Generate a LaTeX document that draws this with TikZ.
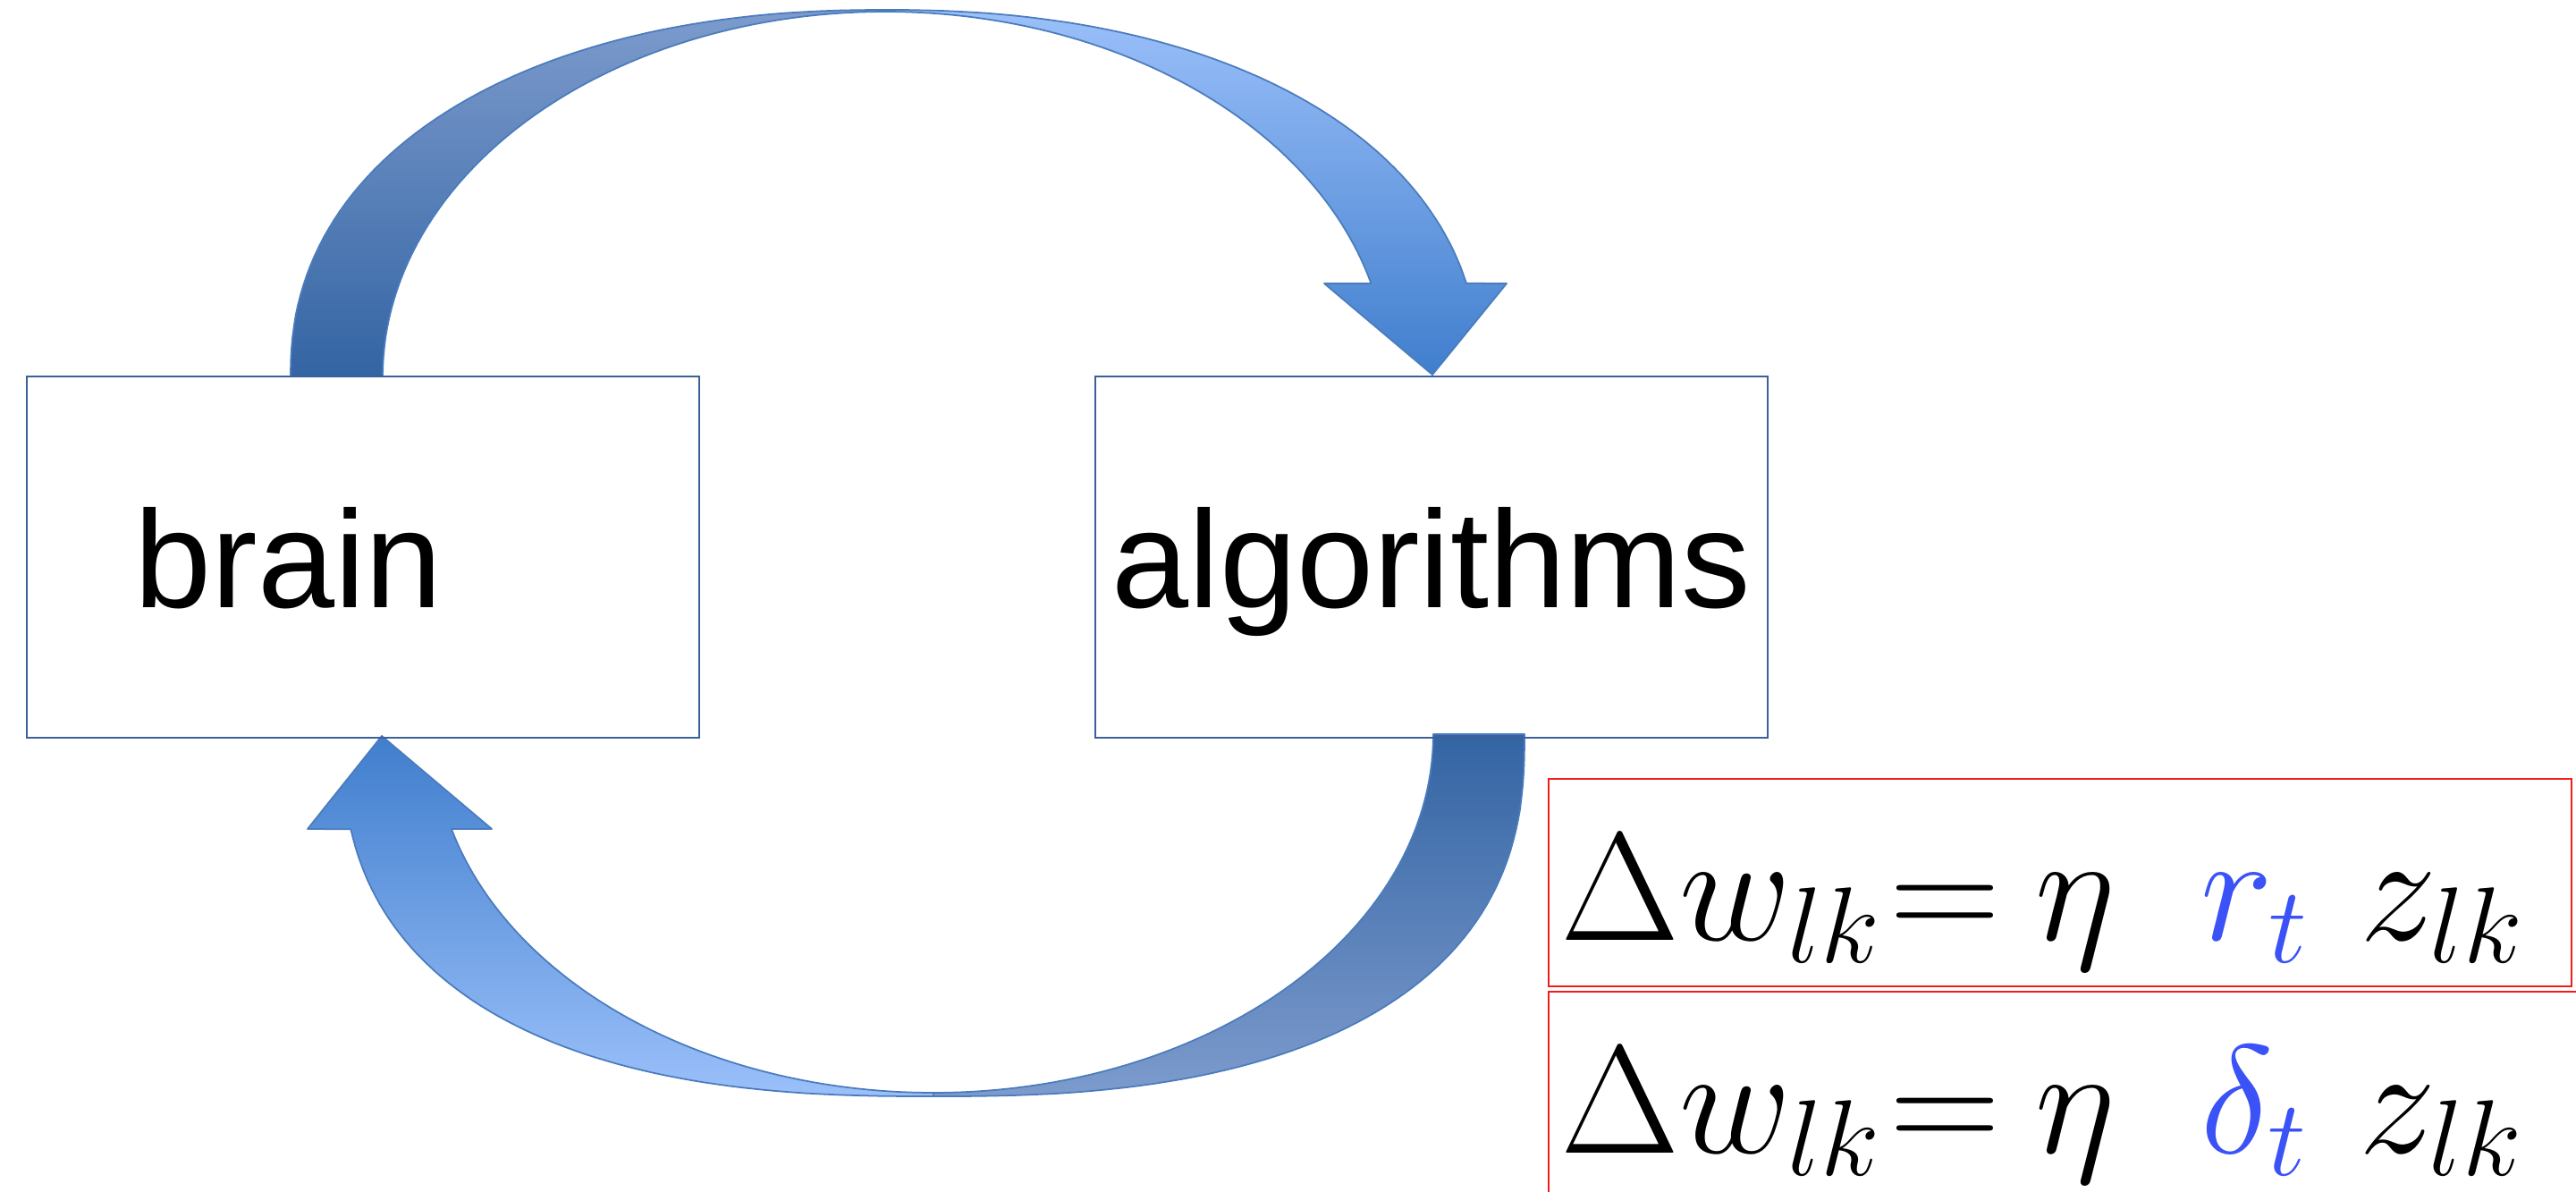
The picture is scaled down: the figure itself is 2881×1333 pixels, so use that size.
\documentclass[tikz,border=0pt]{standalone}
\usepackage{fix-cm}
\usepackage{fontspec}
\usepackage{xcolor}
\usetikzlibrary{positioning}
\newfontfamily\labelfont{Liberation Sans}
\definecolor{BoxBlue}{HTML}{3C6098}
\definecolor{RuleRed}{HTML}{F21C1C}
\definecolor{EqBlue}{HTML}{3B52F6}
\definecolor{BackDark}{HTML}{3364A3}
\definecolor{BackLight}{HTML}{7D9BCD}
\definecolor{FrontLight}{HTML}{9BC0FA}
\definecolor{FrontDark}{HTML}{407ECD}
\definecolor{ArrowEdge}{HTML}{4A7CBD}

\begin{document}
\begin{tikzpicture}[x=0.01cm, y=-0.01cm, node distance=4.4cm,
  box/.style={draw=BoxBlue, line width=0.6pt, minimum width=7.52cm, minimum height=4.04cm, font=\labelfont\fontsize{44}{50}\selectfont, text depth=0pt},
  rulebox/.style={draw=RuleRed, line width=0.6pt, inner xsep=0.14cm, inner ysep=0pt, align=left, text height=1.8cm, font=\fontsize{49}{56}\selectfont},
  ribbon/.style={draw=ArrowEdge, line width=0.5pt, line join=round}]
  \path[fill=white, use as bounding box] (0,0) rectangle (2881,1333);

  % brain -> algorithms (over the top)
  \path[ribbon, top color=BackLight, bottom color=BackDark]
    (325,421) -- plot[domain=180.3:269.7, samples=60, variable=\t] ({990-665*pow(abs(cos(\t)),0.909)}, {421-410*pow(abs(sin(\t)),0.909)})
    -- (990,11) -- plot[domain=270:180, samples=60, variable=\t] ({990+562*cos(\t)}, {421+408*sin(\t)}) -- cycle;
  \path[ribbon, top color=FrontLight, bottom color=FrontDark]
    (990,11) -- plot[domain=270.3:347.2, samples=60, variable=\t] ({990+665*pow(abs(cos(\t)),0.909)}, {421-410*pow(abs(sin(\t)),0.909)})
    -- (1685,317) -- (1602,419) -- (1481,317) -- (1533,317)
    -- plot[domain=345.2:270, samples=60, variable=\t] ({990+562*cos(\t)}, {421+408*sin(\t)}) -- cycle;

  % algorithms -> brain (under the bottom)
  \path[ribbon, top color=BackDark, bottom color=BackLight]
    (1705,821) -- plot[domain=0.3:89.7, samples=60, variable=\t] ({1044+661*pow(abs(cos(\t)),0.8)}, {821+405*pow(abs(sin(\t)),0.8)})
    -- (1044,1226) -- plot[domain=90:0, samples=60, variable=\t] ({1044+559*cos(\t)}, {821+401*sin(\t)}) -- cycle;
  \path[ribbon, top color=FrontDark, bottom color=FrontLight]
    (1044,1226) -- plot[domain=90.3:169.2, samples=60, variable=\t] ({1044-661*pow(abs(cos(\t)),0.8)}, {821+405*pow(abs(sin(\t)),0.8)})
    -- (344,927) -- (427,823) -- (550,927) -- (505,927)
    -- plot[domain=164.7:90, samples=60, variable=\t] ({1044+559*cos(\t)}, {821+401*sin(\t)}) -- cycle;

  \node (brain) [box, text width=5.10cm, align=left, inner xsep=1.21cm] at (406,623) {brain};
  \node (algo) [box, right=of brain] {algorithms};

  % update rules
  \node (ruleone) [rulebox, text width=11.16cm, text depth=0.52cm] at (2304,987)
    {$\Delta w_{lk}\mskip-4mu=\mskip-1mu\eta\mskip10mu{\color{EqBlue}r_t}\mskip6mu z_{lk}$};
  \node (ruletwo) [rulebox, text width=11.30cm, text depth=0.60cm] at (2311,1229)
    {$\Delta w_{lk}\mskip-4mu=\mskip-1mu\eta\mskip10mu{\color{EqBlue}\delta_t}\mskip6mu z_{lk}$};
\end{tikzpicture}
\end{document}
